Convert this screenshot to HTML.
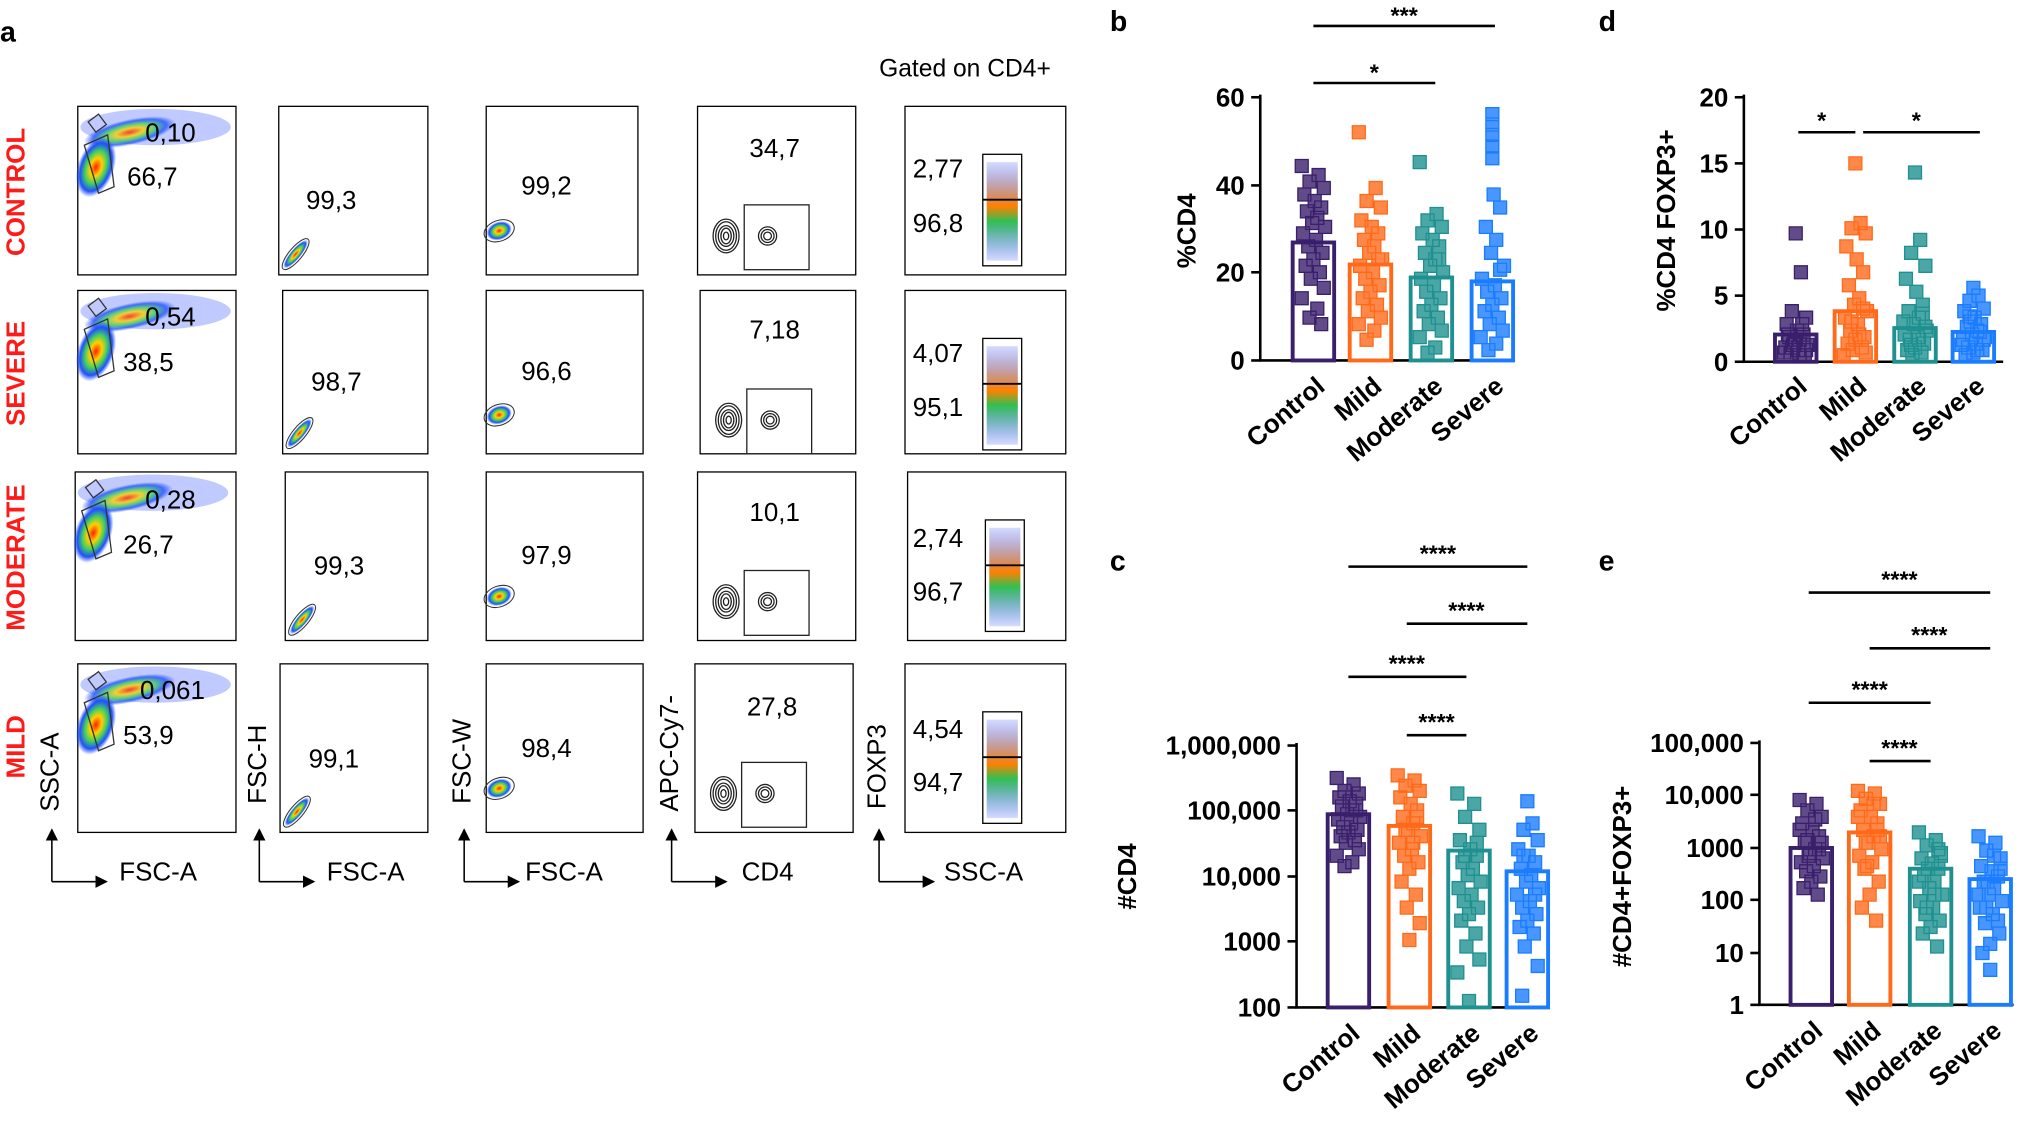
<!DOCTYPE html>
<html><head><meta charset="utf-8"><style>
html,body{margin:0;padding:0;background:#fff;}
svg{display:block;font-family:"Liberation Sans",Arial,sans-serif;}
</style></head><body>
<svg width="2033" height="1134" viewBox="0 0 1568 874.6" xmlns="http://www.w3.org/2000/svg" xmlns:xlink="http://www.w3.org/1999/xlink">
<defs>
<radialGradient id="heat" cx="50%" cy="50%" r="50%">
<stop offset="0" stop-color="#ff2000"/><stop offset="0.3" stop-color="#ffd000"/><stop offset="0.55" stop-color="#40d060"/><stop offset="0.8" stop-color="#2050ff"/><stop offset="1" stop-color="#2050ff" stop-opacity="0"/>
</radialGradient>
<linearGradient id="strip" x1="0" y1="0" x2="0" y2="1">
<stop offset="0" stop-color="#3050ff" stop-opacity="0.2"/><stop offset="0.45" stop-color="#ff8000"/><stop offset="0.6" stop-color="#30c050"/><stop offset="1" stop-color="#3050ff" stop-opacity="0.2"/>
</linearGradient>
<marker id="ar" markerWidth="8" markerHeight="8" refX="7" refY="4" orient="auto"><path d="M0,0 L8,4 L0,8z" fill="#000"/></marker>
<g id="f1">
<ellipse cx="60" cy="16" rx="58" ry="14" fill="#3050ff" opacity="0.3"/>
<ellipse cx="40" cy="20" rx="36" ry="10" fill="url(#heat)" opacity="0.8" transform="rotate(-12 40 20)"/>
<ellipse cx="14" cy="47" rx="14" ry="24" fill="url(#heat)" transform="rotate(20 14 47)"/>
<path d="M5,30 l18,-8 l5,40 l-12,5 z" fill="none" stroke="#333"/>
<path d="M8,12 l8,-6 l6,8 l-8,6 z" fill="none" stroke="#333"/>
</g>
<g id="f2">
<ellipse cx="13" cy="114" rx="14" ry="4" fill="url(#heat)" transform="rotate(-50 13 114)"/>
<ellipse cx="13" cy="114" rx="15" ry="5" fill="none" stroke="#333" stroke-width="0.8" transform="rotate(-50 13 114)"/>
</g>
<g id="f3">
<ellipse cx="10" cy="96" rx="10" ry="7" fill="url(#heat)" transform="rotate(-20 10 96)"/>
<ellipse cx="10" cy="96" rx="12" ry="8" fill="none" stroke="#333" stroke-width="0.8" transform="rotate(-20 10 96)"/>
</g>
<g id="f4" fill="none" stroke="#222">
<rect x="36" y="76" width="50" height="50"/>
<ellipse cx="22" cy="100" rx="10" ry="13"/><ellipse cx="22" cy="100" rx="8" ry="11"/><ellipse cx="22" cy="100" rx="6" ry="8"/><ellipse cx="22" cy="100" rx="4" ry="6"/><ellipse cx="22" cy="100" rx="2" ry="3"/>
<circle cx="54" cy="100" r="7"/><circle cx="54" cy="100" r="5"/><circle cx="54" cy="100" r="3"/>
</g>
<g id="f5">
<rect x="63" y="43" width="24" height="76" fill="url(#strip)"/>
<rect x="60" y="37" width="30" height="86" fill="none" stroke="#000"/>
<line x1="60" y1="72" x2="90" y2="72" stroke="#000" stroke-width="1.5"/>
</g>
</defs>
<!-- flow boxes -->
<g fill="none" stroke="#000">
<rect x="60" y="82" width="122" height="130"/><rect x="215" y="82" width="115" height="130"/><rect x="375" y="82" width="117" height="130"/><rect x="538" y="82" width="122" height="130"/><rect x="698" y="82" width="124" height="130"/>
<rect x="60" y="224" width="122" height="126"/><rect x="218" y="224" width="112" height="126"/><rect x="375" y="224" width="121" height="126"/><rect x="540" y="224" width="120" height="126"/><rect x="698" y="224" width="124" height="126"/>
<rect x="58" y="364" width="124" height="130"/><rect x="220" y="364" width="110" height="130"/><rect x="375" y="364" width="121" height="130"/><rect x="538" y="364" width="122" height="130"/><rect x="700" y="364" width="122" height="130"/>
<rect x="60" y="512" width="122" height="130"/><rect x="216" y="512" width="114" height="130"/><rect x="375" y="512" width="121" height="130"/><rect x="536" y="512" width="122" height="130"/><rect x="698" y="512" width="124" height="130"/>
</g>
<use xlink:href="#f1" x="60" y="82"/><use xlink:href="#f2" x="215" y="82"/><use xlink:href="#f3" x="375" y="82"/><use xlink:href="#f4" x="538" y="82"/><use xlink:href="#f5" x="698" y="82"/>
<use xlink:href="#f1" x="60" y="224"/><use xlink:href="#f2" x="218" y="220"/><use xlink:href="#f3" x="375" y="224"/><use xlink:href="#f4" x="540" y="224"/><use xlink:href="#f5" x="698" y="224"/>
<use xlink:href="#f1" x="58" y="364"/><use xlink:href="#f2" x="220" y="364"/><use xlink:href="#f3" x="375" y="364"/><use xlink:href="#f4" x="538" y="364"/><use xlink:href="#f5" x="700" y="364"/>
<use xlink:href="#f1" x="60" y="512"/><use xlink:href="#f2" x="216" y="512"/><use xlink:href="#f3" x="375" y="512"/><use xlink:href="#f4" x="536" y="512"/><use xlink:href="#f5" x="698" y="512"/>
<g font-size="22" font-weight="bold">
<text x="0" y="32">a</text><text x="856" y="24">b</text><text x="1233" y="24">d</text><text x="856" y="440">c</text><text x="1233" y="440">e</text>
</g>
<text x="678" y="59" font-size="19">Gated on CD4+</text>
<g font-size="20" font-weight="bold" fill="#ff1a1a" text-anchor="middle">
<text transform="translate(19,148) rotate(-90)">CONTROL</text>
<text transform="translate(19,288) rotate(-90)">SEVERE</text>
<text transform="translate(19,430) rotate(-90)">MODERATE</text>
<text transform="translate(19,576) rotate(-90)">MILD</text>
</g>
<g font-size="20">
<text x="112" y="109">0,10</text><text x="98" y="143">66,7</text><text x="236" y="161">99,3</text><text x="402" y="150">99,2</text><text x="578" y="121">34,7</text><text x="704" y="137">2,77</text><text x="704" y="179">96,8</text>
<text x="112" y="251">0,54</text><text x="95" y="286">38,5</text><text x="240" y="301">98,7</text><text x="402" y="293">96,6</text><text x="578" y="261">7,18</text><text x="704" y="279">4,07</text><text x="704" y="321">95,1</text>
<text x="112" y="392">0,28</text><text x="95" y="427">26,7</text><text x="242" y="443">99,3</text><text x="402" y="435">97,9</text><text x="578" y="402">10,1</text><text x="704" y="422">2,74</text><text x="704" y="463">96,7</text>
<text x="108" y="539">0,061</text><text x="95" y="574">53,9</text><text x="238" y="592">99,1</text><text x="402" y="584">98,4</text><text x="576" y="552">27,8</text><text x="704" y="569">4,54</text><text x="704" y="610">94,7</text>
</g>
<!-- axes arrows -->
<g stroke="#000" stroke-width="1.2" marker-end="url(#ar)">
<line x1="40" y1="680" x2="40" y2="640"/><line x1="40" y1="680" x2="82" y2="680"/>
<line x1="200" y1="680" x2="200" y2="640"/><line x1="200" y1="680" x2="242" y2="680"/>
<line x1="358" y1="680" x2="358" y2="640"/><line x1="358" y1="680" x2="400" y2="680"/>
<line x1="518" y1="680" x2="518" y2="640"/><line x1="518" y1="680" x2="560" y2="680"/>
<line x1="678" y1="680" x2="678" y2="640"/><line x1="678" y1="680" x2="720" y2="680"/>
</g>
<g font-size="20">
<text x="92" y="679">FSC-A</text><text x="252" y="679">FSC-A</text><text x="405" y="679">FSC-A</text><text x="572" y="679">CD4</text><text x="728" y="679">SSC-A</text>
<text transform="translate(45,626) rotate(-90)">SSC-A</text>
<text transform="translate(205,620) rotate(-90)">FSC-H</text>
<text transform="translate(363,620) rotate(-90)">FSC-W</text>
<text transform="translate(523,626) rotate(-90)">APC-Cy7-</text>
<text transform="translate(683,624) rotate(-90)">FOXP3</text>
</g>

<!-- ===== Chart b ===== -->
<g>
<g stroke="#000" stroke-width="2"><line x1="972" y1="73" x2="972" y2="278"/><line x1="971" y1="278" x2="1168" y2="278"/>
<line x1="965" y1="278" x2="972" y2="278"/><line x1="965" y1="210" x2="972" y2="210"/><line x1="965" y1="143" x2="972" y2="143"/><line x1="965" y1="75" x2="972" y2="75"/>
<line x1="1013" y1="20" x2="1153" y2="20"/><line x1="1013" y1="64" x2="1107" y2="64"/></g>
<g font-size="20" font-weight="bold" text-anchor="end"><text x="960" y="285">0</text><text x="960" y="217">20</text><text x="960" y="150">40</text><text x="960" y="82">60</text></g>
<text transform="translate(922,178) rotate(-90)" text-anchor="middle" font-size="20" font-weight="bold">%CD4</text>
<g font-size="18" font-weight="bold" text-anchor="middle"><text x="1083" y="18">***</text><text x="1060" y="62">*</text></g>
<g fill="none" stroke-width="3"><rect x="997" y="187" width="32" height="91" stroke="#3a1f6c"/><rect x="1041" y="204" width="32" height="74" stroke="#ff6a1a"/><rect x="1088" y="214" width="32" height="64" stroke="#1e9090"/><rect x="1135" y="217" width="32" height="61" stroke="#1a7cff"/></g>
<path transform="translate(1013,0)" fill="#3a1f6c" fill-opacity="0.8" stroke="#3a1f6c" d="M-14 123h10v10h-10zM-1 130h10v10h-10zM-8 135h10v10h-10zM3 140h10v10h-10zM-12 145h10v10h-10zM-4 150h10v10h-10zM1 155h10v10h-10zM-10 158h10v10h-10zM-2 163h10v10h-10zM-6 167h10v10h-10zM4 170h10v10h-10zM-13 175h10v10h-10zM-3 180h10v10h-10zM-9 185h10v10h-10zM2 190h10v10h-10zM-5 195h10v10h-10zM-11 200h10v10h-10zM0 205h10v10h-10zM-7 210h10v10h-10zM3 217h10v10h-10zM-14 225h10v10h-10zM-2 233h10v10h-10zM-8 240h10v10h-10zM1 245h10v10h-10z"/>
<path transform="translate(1057,0)" fill="#ff6a1a" fill-opacity="0.8" stroke="#ff6a1a" d="M-14 97h10v10h-10zM-1 140h10v10h-10zM-8 150h10v10h-10zM3 155h10v10h-10zM-12 165h10v10h-10zM-4 170h10v10h-10zM1 175h10v10h-10zM-10 180h10v10h-10zM-2 185h10v10h-10zM-6 190h10v10h-10zM4 195h10v10h-10zM-13 200h10v10h-10zM-3 205h10v10h-10zM-9 210h10v10h-10zM2 215h10v10h-10zM-5 220h10v10h-10zM-11 225h10v10h-10zM0 230h10v10h-10zM-7 235h10v10h-10zM3 240h10v10h-10zM-14 245h10v10h-10zM-2 250h10v10h-10zM-8 257h10v10h-10zM1 195h10v10h-10z"/>
<path transform="translate(1104,0)" fill="#1e9090" fill-opacity="0.8" stroke="#1e9090" d="M-14 120h10v10h-10zM-1 160h10v10h-10zM-8 165h10v10h-10zM3 170h10v10h-10zM-12 175h10v10h-10zM-4 180h10v10h-10zM1 185h10v10h-10zM-10 190h10v10h-10zM-2 195h10v10h-10zM-6 200h10v10h-10zM4 205h10v10h-10zM-13 210h10v10h-10zM-3 215h10v10h-10zM-9 220h10v10h-10zM2 225h10v10h-10zM-5 230h10v10h-10zM-11 235h10v10h-10zM0 240h10v10h-10zM-7 245h10v10h-10zM3 250h10v10h-10zM-14 255h10v10h-10zM-2 263h10v10h-10zM-8 267h10v10h-10zM1 195h10v10h-10z"/>
<path transform="translate(1151,0)" fill="#1a7cff" fill-opacity="0.8" stroke="#1a7cff" d="M-5 83h10v10h-10zM-5 91h10v10h-10zM-5 99h10v10h-10zM-5 108h10v10h-10zM-5 117h10v10h-10zM-4 145h10v10h-10zM1 155h10v10h-10zM-10 170h10v10h-10zM-2 180h10v10h-10zM-6 190h10v10h-10zM4 200h10v10h-10zM-13 210h10v10h-10zM-3 215h10v10h-10zM-9 220h10v10h-10zM2 225h10v10h-10zM-5 230h10v10h-10zM-11 235h10v10h-10zM0 240h10v10h-10zM-7 245h10v10h-10zM3 250h10v10h-10zM-14 255h10v10h-10zM-2 260h10v10h-10zM-8 265h10v10h-10zM1 203h10v10h-10z"/>
<g font-size="20" font-weight="bold" text-anchor="end">
<text transform="translate(1023,300) rotate(-40)">Control</text><text transform="translate(1067,300) rotate(-40)">Mild</text><text transform="translate(1114,300) rotate(-40)">Moderate</text><text transform="translate(1161,300) rotate(-40)">Severe</text></g>
</g>

<!-- ===== Chart d ===== -->
<g>
<g stroke="#000" stroke-width="2"><line x1="1345" y1="73" x2="1345" y2="279"/><line x1="1344" y1="279" x2="1545" y2="279"/>
<line x1="1338" y1="279" x2="1345" y2="279"/><line x1="1338" y1="228" x2="1345" y2="228"/><line x1="1338" y1="177" x2="1345" y2="177"/><line x1="1338" y1="126" x2="1345" y2="126"/><line x1="1338" y1="75" x2="1345" y2="75"/>
<line x1="1387" y1="102" x2="1431" y2="102"/><line x1="1437" y1="102" x2="1527" y2="102"/></g>
<g font-size="20" font-weight="bold" text-anchor="end"><text x="1333" y="286">0</text><text x="1333" y="235">5</text><text x="1333" y="184">10</text><text x="1333" y="133">15</text><text x="1333" y="82">20</text></g>
<text transform="translate(1292,170) rotate(-90)" text-anchor="middle" font-size="20" font-weight="bold">%CD4 FOXP3+</text>
<g font-size="18" font-weight="bold" text-anchor="middle"><text x="1405" y="99">*</text><text x="1478" y="99">*</text></g>
<g fill="none" stroke-width="3"><rect x="1369" y="258" width="32" height="21" stroke="#3a1f6c"/><rect x="1415" y="240" width="32" height="39" stroke="#ff6a1a"/><rect x="1461" y="253" width="32" height="26" stroke="#1e9090"/><rect x="1506" y="256" width="32" height="23" stroke="#1a7cff"/></g>
<path transform="translate(1385,0)" fill="#3a1f6c" fill-opacity="0.8" stroke="#3a1f6c" d="M-5 175h10v10h-10zM-1 205h10v10h-10zM-8 235h10v10h-10zM3 240h10v10h-10zM-12 245h10v10h-10zM-4 250h10v10h-10zM1 253h10v10h-10zM-10 255h10v10h-10zM-2 257h10v10h-10zM-6 259h10v10h-10zM4 261h10v10h-10zM-13 263h10v10h-10zM-3 265h10v10h-10zM-9 267h10v10h-10zM2 269h10v10h-10zM-5 257h10v10h-10zM-11 253h10v10h-10zM0 245h10v10h-10zM-7 261h10v10h-10zM3 265h10v10h-10zM-14 267h10v10h-10zM-2 269h10v10h-10zM-8 263h10v10h-10zM1 259h10v10h-10z"/>
<path transform="translate(1431,0)" fill="#ff6a1a" fill-opacity="0.8" stroke="#ff6a1a" d="M-5 121h10v10h-10zM-1 167h10v10h-10zM-8 171h10v10h-10zM3 175h10v10h-10zM-12 185h10v10h-10zM-4 195h10v10h-10zM1 205h10v10h-10zM-10 215h10v10h-10zM-2 225h10v10h-10zM-6 230h10v10h-10zM4 235h10v10h-10zM-13 240h10v10h-10zM-3 245h10v10h-10zM-9 250h10v10h-10zM2 255h10v10h-10zM-5 257h10v10h-10zM-11 260h10v10h-10zM0 263h10v10h-10zM-7 265h10v10h-10zM3 267h10v10h-10zM-14 269h10v10h-10zM-2 253h10v10h-10zM-8 243h10v10h-10zM1 233h10v10h-10z"/>
<path transform="translate(1477,0)" fill="#1e9090" fill-opacity="0.8" stroke="#1e9090" d="M-5 128h10v10h-10zM-1 180h10v10h-10zM-8 190h10v10h-10zM3 200h10v10h-10zM-12 210h10v10h-10zM-4 220h10v10h-10zM1 230h10v10h-10zM-10 235h10v10h-10zM-2 240h10v10h-10zM-6 245h10v10h-10zM4 250h10v10h-10zM-13 253h10v10h-10zM-3 255h10v10h-10zM-9 257h10v10h-10zM2 260h10v10h-10zM-5 263h10v10h-10zM-11 265h10v10h-10zM0 267h10v10h-10zM-7 269h10v10h-10zM3 247h10v10h-10zM-14 243h10v10h-10zM-2 257h10v10h-10zM-8 261h10v10h-10zM1 237h10v10h-10z"/>
<path transform="translate(1522,0)" fill="#1a7cff" fill-opacity="0.8" stroke="#1a7cff" d="M-5 217h10v10h-10zM-1 223h10v10h-10zM-8 227h10v10h-10zM3 233h10v10h-10zM-12 235h10v10h-10zM-4 240h10v10h-10zM1 245h10v10h-10zM-10 247h10v10h-10zM-2 250h10v10h-10zM-6 253h10v10h-10zM4 255h10v10h-10zM-13 257h10v10h-10zM-3 260h10v10h-10zM-9 263h10v10h-10zM2 265h10v10h-10zM-5 267h10v10h-10zM-11 269h10v10h-10zM0 251h10v10h-10zM-7 243h10v10h-10zM3 257h10v10h-10zM-14 261h10v10h-10zM-2 265h10v10h-10zM-8 239h10v10h-10zM1 245h10v10h-10z"/>
<g font-size="20" font-weight="bold" text-anchor="end">
<text transform="translate(1395,300) rotate(-40)">Control</text><text transform="translate(1441,300) rotate(-40)">Mild</text><text transform="translate(1487,300) rotate(-40)">Moderate</text><text transform="translate(1532,300) rotate(-40)">Severe</text></g>
</g>

<!-- ===== Chart c ===== -->
<g>
<g stroke="#000" stroke-width="2"><line x1="1000" y1="573" x2="1000" y2="777"/><line x1="999" y1="777" x2="1195" y2="777"/>
<line x1="993" y1="777" x2="1000" y2="777"/><line x1="993" y1="726" x2="1000" y2="726"/><line x1="993" y1="676" x2="1000" y2="676"/><line x1="993" y1="625" x2="1000" y2="625"/><line x1="993" y1="575" x2="1000" y2="575"/>
<line x1="1040" y1="437" x2="1178" y2="437"/><line x1="1085" y1="481" x2="1178" y2="481"/><line x1="1040" y1="522" x2="1131" y2="522"/><line x1="1085" y1="567" x2="1131" y2="567"/></g>
<g font-size="20" font-weight="bold" text-anchor="end"><text x="988" y="784">100</text><text x="988" y="733">1000</text><text x="988" y="683">10,000</text><text x="988" y="632">100,000</text><text x="988" y="582">1,000,000</text></g>
<text transform="translate(876,676) rotate(-90)" text-anchor="middle" font-size="20" font-weight="bold">#CD4</text>
<g font-size="18" font-weight="bold" text-anchor="middle"><text x="1109" y="433">****</text><text x="1131" y="477">****</text><text x="1085" y="518">****</text><text x="1108" y="563">****</text></g>
<g fill="none" stroke-width="3"><rect x="1024" y="628" width="32" height="149" stroke="#3a1f6c"/><rect x="1071" y="637" width="32" height="140" stroke="#ff6a1a"/><rect x="1117" y="656" width="32" height="121" stroke="#1e9090"/><rect x="1162" y="672" width="32" height="105" stroke="#1a7cff"/></g>
<path transform="translate(1040,0)" fill="#3a1f6c" fill-opacity="0.8" stroke="#3a1f6c" d="M-14 595h10v10h-10zM-1 600h10v10h-10zM-8 605h10v10h-10zM3 607h10v10h-10zM-12 610h10v10h-10zM-4 613h10v10h-10zM1 615h10v10h-10zM-10 617h10v10h-10zM-2 620h10v10h-10zM-6 623h10v10h-10zM4 625h10v10h-10zM-13 627h10v10h-10zM-3 630h10v10h-10zM-9 633h10v10h-10zM2 635h10v10h-10zM-5 637h10v10h-10zM-11 640h10v10h-10zM0 643h10v10h-10zM-7 645h10v10h-10zM3 650h10v10h-10zM-14 655h10v10h-10zM-2 660h10v10h-10zM-8 663h10v10h-10zM1 620h10v10h-10z"/>
<path transform="translate(1087,0)" fill="#ff6a1a" fill-opacity="0.8" stroke="#ff6a1a" d="M-14 593h10v10h-10zM-1 597h10v10h-10zM-8 601h10v10h-10zM3 605h10v10h-10zM-12 610h10v10h-10zM-4 615h10v10h-10zM1 620h10v10h-10zM-10 625h10v10h-10zM-2 630h10v10h-10zM-6 635h10v10h-10zM4 640h10v10h-10zM-13 645h10v10h-10zM-3 650h10v10h-10zM-9 655h10v10h-10zM2 660h10v10h-10zM-5 665h10v10h-10zM-11 675h10v10h-10zM0 685h10v10h-10zM-7 695h10v10h-10zM3 707h10v10h-10zM-5 720h10v10h-10zM-2 645h10v10h-10zM-8 635h10v10h-10zM1 625h10v10h-10z"/>
<path transform="translate(1133,0)" fill="#1e9090" fill-opacity="0.8" stroke="#1e9090" d="M-14 607h10v10h-10zM-1 615h10v10h-10zM-8 625h10v10h-10zM3 635h10v10h-10zM-12 643h10v10h-10zM-4 650h10v10h-10zM1 655h10v10h-10zM-10 660h10v10h-10zM-2 665h10v10h-10zM-6 670h10v10h-10zM4 675h10v10h-10zM-13 680h10v10h-10zM-3 685h10v10h-10zM-9 690h10v10h-10zM2 695h10v10h-10zM-5 700h10v10h-10zM-11 705h10v10h-10zM0 715h10v10h-10zM-7 725h10v10h-10zM3 735h10v10h-10zM-14 745h10v10h-10zM-5 767h10v10h-10zM-8 655h10v10h-10zM1 645h10v10h-10z"/>
<path transform="translate(1178,0)" fill="#1a7cff" fill-opacity="0.8" stroke="#1a7cff" d="M-5 613h10v10h-10zM-1 630h10v10h-10zM-8 635h10v10h-10zM3 643h10v10h-10zM-12 650h10v10h-10zM-4 655h10v10h-10zM1 660h10v10h-10zM-10 665h10v10h-10zM-2 670h10v10h-10zM-6 675h10v10h-10zM4 680h10v10h-10zM-13 685h10v10h-10zM-3 690h10v10h-10zM-9 695h10v10h-10zM2 700h10v10h-10zM-5 705h10v10h-10zM-11 710h10v10h-10zM0 715h10v10h-10zM-7 725h10v10h-10zM3 740h10v10h-10zM-9 763h10v10h-10zM-2 670h10v10h-10zM-8 655h10v10h-10zM1 685h10v10h-10z"/>
<g font-size="20" font-weight="bold" text-anchor="end">
<text transform="translate(1050,799) rotate(-40)">Control</text><text transform="translate(1097,799) rotate(-40)">Mild</text><text transform="translate(1143,799) rotate(-40)">Moderate</text><text transform="translate(1188,799) rotate(-40)">Severe</text></g>
</g>

<!-- ===== Chart e ===== -->
<g>
<g stroke="#000" stroke-width="2"><line x1="1357" y1="571" x2="1357" y2="775"/><line x1="1356" y1="775" x2="1553" y2="775"/>
<line x1="1350" y1="775" x2="1357" y2="775"/><line x1="1350" y1="735" x2="1357" y2="735"/><line x1="1350" y1="694" x2="1357" y2="694"/><line x1="1350" y1="654" x2="1357" y2="654"/><line x1="1350" y1="613" x2="1357" y2="613"/><line x1="1350" y1="573" x2="1357" y2="573"/>
<line x1="1395" y1="457" x2="1535" y2="457"/><line x1="1442" y1="500" x2="1535" y2="500"/><line x1="1395" y1="542" x2="1489" y2="542"/><line x1="1442" y1="587" x2="1489" y2="587"/></g>
<g font-size="20" font-weight="bold" text-anchor="end"><text x="1345" y="782">1</text><text x="1345" y="742">10</text><text x="1345" y="701">100</text><text x="1345" y="661">1000</text><text x="1345" y="620">10,000</text><text x="1345" y="580">100,000</text></g>
<text transform="translate(1258,676) rotate(-90)" text-anchor="middle" font-size="20" font-weight="bold">#CD4+FOXP3+</text>
<g font-size="18" font-weight="bold" text-anchor="middle"><text x="1465" y="453">****</text><text x="1488" y="496">****</text><text x="1442" y="538">****</text><text x="1465" y="583">****</text></g>
<g fill="none" stroke-width="3"><rect x="1381" y="654" width="32" height="121" stroke="#3a1f6c"/><rect x="1426" y="642" width="32" height="133" stroke="#ff6a1a"/><rect x="1473" y="670" width="32" height="105" stroke="#1e9090"/><rect x="1519" y="678" width="32" height="97" stroke="#1a7cff"/></g>
<path transform="translate(1397,0)" fill="#3a1f6c" fill-opacity="0.8" stroke="#3a1f6c" d="M-14 612h10v10h-10zM-1 615h10v10h-10zM-8 620h10v10h-10zM3 625h10v10h-10zM-12 630h10v10h-10zM-4 635h10v10h-10zM1 640h10v10h-10zM-10 645h10v10h-10zM-2 650h10v10h-10zM-6 653h10v10h-10zM4 657h10v10h-10zM-13 660h10v10h-10zM-3 663h10v10h-10zM-9 667h10v10h-10zM2 671h10v10h-10zM-5 675h10v10h-10zM-11 680h10v10h-10zM0 685h10v10h-10zM-7 655h10v10h-10zM3 645h10v10h-10zM-14 635h10v10h-10zM-2 627h10v10h-10zM-8 643h10v10h-10zM1 650h10v10h-10z"/>
<path transform="translate(1442,0)" fill="#ff6a1a" fill-opacity="0.8" stroke="#ff6a1a" d="M-14 605h10v10h-10zM-1 607h10v10h-10zM-8 611h10v10h-10zM3 615h10v10h-10zM-12 620h10v10h-10zM-4 625h10v10h-10zM1 630h10v10h-10zM-10 635h10v10h-10zM-2 640h10v10h-10zM-6 645h10v10h-10zM4 650h10v10h-10zM-13 655h10v10h-10zM-3 660h10v10h-10zM-9 665h10v10h-10zM2 675h10v10h-10zM-5 685h10v10h-10zM-11 695h10v10h-10zM0 705h10v10h-10zM-7 663h10v10h-10zM3 640h10v10h-10zM-14 625h10v10h-10zM-2 615h10v10h-10zM-8 645h10v10h-10zM1 635h10v10h-10z"/>
<path transform="translate(1489,0)" fill="#1e9090" fill-opacity="0.8" stroke="#1e9090" d="M-14 637h10v10h-10zM-1 643h10v10h-10zM-8 647h10v10h-10zM3 653h10v10h-10zM-12 657h10v10h-10zM-4 661h10v10h-10zM1 665h10v10h-10zM-10 670h10v10h-10zM-2 675h10v10h-10zM-6 680h10v10h-10zM4 685h10v10h-10zM-13 690h10v10h-10zM-3 695h10v10h-10zM-9 700h10v10h-10zM2 705h10v10h-10zM-5 710h10v10h-10zM-11 715h10v10h-10zM0 725h10v10h-10zM-7 665h10v10h-10zM3 655h10v10h-10zM-14 675h10v10h-10zM-2 685h10v10h-10zM-8 695h10v10h-10zM1 650h10v10h-10z"/>
<path transform="translate(1535,0)" fill="#1a7cff" fill-opacity="0.8" stroke="#1a7cff" d="M-14 640h10v10h-10zM-1 645h10v10h-10zM-8 651h10v10h-10zM3 657h10v10h-10zM-12 663h10v10h-10zM-4 667h10v10h-10zM1 671h10v10h-10zM-10 675h10v10h-10zM-2 680h10v10h-10zM-6 685h10v10h-10zM4 690h10v10h-10zM-13 695h10v10h-10zM-3 700h10v10h-10zM-9 707h10v10h-10zM2 715h10v10h-10zM-5 723h10v10h-10zM-11 730h10v10h-10zM-5 743h10v10h-10zM-7 675h10v10h-10zM3 665h10v10h-10zM-14 685h10v10h-10zM-2 655h10v10h-10zM-8 695h10v10h-10zM1 705h10v10h-10z"/>
<g font-size="20" font-weight="bold" text-anchor="end">
<text transform="translate(1407,797) rotate(-40)">Control</text><text transform="translate(1452,797) rotate(-40)">Mild</text><text transform="translate(1499,797) rotate(-40)">Moderate</text><text transform="translate(1545,797) rotate(-40)">Severe</text></g>
</g>
</svg>
</body></html>
